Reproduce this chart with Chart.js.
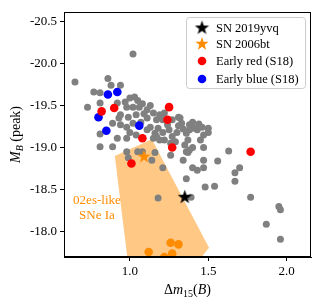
<!DOCTYPE html>
<html>
<head>
<meta charset="utf-8">
<script src="https://cdn.jsdelivr.net/npm/chart.js@4"></script>
<style>
  html, body { margin: 0; padding: 0; background: #fff; }
  #wrap { width: 324px; height: 305px; }
</style>
</head>
<body>
<div id="wrap"><canvas id="grafico" width="324" height="305"></canvas></div>
<script>
// valores
const grayDm15 = [1.02,0.65,0.86,0.88,0.94,0.77,0.81,0.81,0.73,0.92,0.97,1.00,1.03,1.05,0.98,1.02,1.06,1.11,1.15,1.19,
  0.94,0.99,1.04,1.11,1.17,1.21,0.89,0.94,0.98,1.02,1.13,1.18,1.17,0.81,0.92,1.22,1.27,1.31,1.33,1.38,
  1.41,1.46,1.50,1.25,1.30,1.36,1.47,1.22,1.29,1.35,1.40,1.20,1.32,1.40,1.43,1.38,1.27,1.21,1.11,1.04,
  1.00,1.15,1.19,1.37,1.38,1.37,1.34,1.26,1.21,1.05,1.08,1.16,1.43,1.40,1.50,1.45,1.47,1.63,1.47,1.56,
  1.47,1.70,1.67,1.67,1.36,1.48,1.54,1.77,1.39,1.95,1.96,1.87,1.96,0.99,0.98,1.14,1.18,0.81,0.89,0.98,
  0.93,1.36,1.08,1.13,1.09,1.24,1.34,1.44,1.07,1.16,1.26,1.31];
const grayMB = [-20.11,-19.78,-19.82,-19.74,-19.74,-19.66,-19.65,-19.53,-19.48,-19.53,-19.54,-19.59,-19.60,-19.56,-19.48,-19.48,-19.48,-19.45,-19.41,-19.39,
  -19.39,-19.36,-19.39,-19.35,-19.33,-19.33,-19.29,-19.27,-19.24,-19.29,-19.24,-19.23,-19.13,-19.16,-19.11,-19.41,-19.33,-19.36,-19.29,-19.27,
  -19.23,-19.24,-19.23,-19.21,-19.18,-19.17,-19.15,-19.09,-19.07,-19.03,-19.00,-19.36,-19.35,-19.30,-19.21,-19.21,-19.13,-19.18,-19.21,-19.15,
  -19.18,-19.11,-19.09,-19.09,-18.97,-18.94,-18.85,-18.91,-18.76,-18.95,-18.95,-18.94,-18.73,-18.76,-19.18,-19.09,-19.00,-18.96,-18.85,-18.84,
  -18.76,-18.76,-18.70,-18.60,-18.63,-18.53,-18.54,-18.41,-18.41,-18.30,-18.26,-18.09,-17.91,-18.88,-18.95,-18.85,-18.40,-19.01,-19.01,-19.11,
  -19.35,-18.95,-19.52,-19.50,-19.40,-19.27,-19.22,-19.28,-19.30,-19.17,-19.05,-19.26];

const redDm15 = [0.82, 0.90, 1.08, 1.25, 1.24, 1.27, 1.77, 1.01];
const redMB   = [-19.43, -19.47, -19.11, -19.48, -19.33, -19.00, -18.95, -18.81];

const blueDm15 = [0.86, 0.92, 0.80, 0.85, 1.06];
const blueMB   = [-19.63, -19.66, -19.36, -19.20, -19.26];

const es02Dm15 = [1.12, 1.26, 1.31, 1.27, 1.22];
const es02MB   = [-17.76, -17.87, -17.85, -17.74, -17.70];

const sn2019yvq = [1.35, -18.41];
const sn2006bt  = [1.09, -18.89];

// regiao 02es-like
const regiaoDm15 = [0.904, 1.14, 1.505, 1.35, 1.00];
const regiaoMB   = [-18.90, -19.10, -17.81, -17.45, -17.45];

const xTicks = [1.0, 1.5, 2.0];
const yTicks = [-20.5, -20.0, -19.5, -19.0, -18.5, -18.0];

const fonte = '"Liberation Serif", "DejaVu Serif", serif';

function pontos(xs, ys) {
  return xs.map((v, i) => ({x: v, y: ys[i]}));
}

function estrela(cor, r) {
  let c = document.createElement('canvas');
  let s = Math.ceil(r * 2 + 2);
  c.width = s; c.height = s;
  let ctx = c.getContext('2d');
  ctx.fillStyle = cor;
  ctx.beginPath();
  for (let i = 0; i < 10; i++) {
    let ang = -Math.PI / 2 + i * Math.PI / 5;
    let rad = i % 2 ? r * 0.4 : r;
    let px = s / 2 + rad * Math.cos(ang), py = s / 2 + rad * Math.sin(ang);
    if (i == 0) ctx.moveTo(px, py); else ctx.lineTo(px, py);
  }
  ctx.closePath();
  ctx.fill();
  return c;
}

const estrelaPreta = estrela('#000000', 7.5);
const estrelaLaranja = estrela('#ff8c00', 7);

// desenha a regiao e o texto
const pluginRegiao = {
  id: 'regiao',
  beforeDatasetsDraw(chart) {
    const {ctx, chartArea, scales} = chart;
    ctx.save();
    ctx.beginPath();
    ctx.rect(chartArea.left, chartArea.top, chartArea.width, chartArea.height);
    ctx.clip();
    ctx.beginPath();
    regiaoDm15.forEach((v, i) => {
      let px = scales.x.getPixelForValue(v), py = scales.y.getPixelForValue(regiaoMB[i]);
      if (i == 0) ctx.moveTo(px, py); else ctx.lineTo(px, py);
    });
    ctx.closePath();
    ctx.fillStyle = 'rgba(255,140,0,0.48)';
    ctx.fill();
    ctx.fillStyle = '#ff8c00';
    ctx.font = '13px ' + fonte;
    ctx.textAlign = 'center';
    ctx.textBaseline = 'middle';
    let tx = scales.x.getPixelForValue(0.79);
    ctx.fillText('02es-like', tx, scales.y.getPixelForValue(-18.37));
    ctx.fillText('SNe Ia', tx, scales.y.getPixelForValue(-18.19));
    ctx.restore();
  }
};

function textoPartes(ctx, partes, x, y) {
  let total = 0;
  partes.forEach(p => { ctx.font = p.f; total += ctx.measureText(p.t).width; });
  let cx = x - total / 2;
  partes.forEach(p => {
    ctx.font = p.f;
    ctx.fillText(p.t, cx, y + (p.dy || 0));
    cx += ctx.measureText(p.t).width;
  });
}

const pluginMoldura = {
  id: 'moldura',
  afterDatasetsDraw(chart) {
    const {ctx, chartArea} = chart;
    ctx.save();
    ctx.strokeStyle = '#000';
    ctx.lineWidth = 1;
    ctx.strokeRect(chartArea.left + 0.5, chartArea.top + 0.5, chartArea.width - 1, chartArea.height - 1);

    // legenda
    let lx = 186, ly = 17, lw = 119, lh = 71;
    ctx.beginPath();
    ctx.roundRect(lx + 0.5, ly + 0.5, lw, lh, 3);
    ctx.fillStyle = 'rgba(255,255,255,0.85)';
    ctx.fill();
    ctx.strokeStyle = '#cccccc';
    ctx.stroke();
    const itens = chart.data.datasets.filter(d => d.legenda);
    const linhas = [28, 44, 61, 79];
    ctx.font = '12.5px ' + fonte;
    ctx.fillStyle = '#000';
    ctx.textAlign = 'left';
    ctx.textBaseline = 'middle';
    itens.forEach((d, i) => {
      if (typeof d.pointStyle === 'string') {
        ctx.fillStyle = d.backgroundColor;
        ctx.beginPath();
        ctx.arc(202, linhas[i], d.pointRadius, 0, Math.PI * 2);
        ctx.fill();
      } else {
        Chart.helpers.drawPoint(ctx, {
          pointStyle: d.pointStyle, radius: d.pointRadius, borderWidth: 0, rotation: 0
        }, 202, linhas[i]);
      }
      ctx.fillStyle = '#000';
      ctx.fillText(d.label, 216, linhas[i] + 1);
    });

    // titulos dos eixos
    ctx.textAlign = 'left';
    ctx.textBaseline = 'alphabetic';
    ctx.fillStyle = '#000';
    textoPartes(ctx, [
      {t: '\u0394', f: '14px ' + fonte},
      {t: 'm', f: 'italic 14px ' + fonte},
      {t: '15', f: '10px ' + fonte, dy: 3},
      {t: '(', f: '14px ' + fonte},
      {t: 'B', f: 'italic 14px ' + fonte},
      {t: ')', f: '14px ' + fonte}
    ], (chartArea.left + chartArea.right) / 2, 294);
    ctx.translate(20, (chartArea.top + chartArea.bottom) / 2);
    ctx.rotate(-Math.PI / 2);
    textoPartes(ctx, [
      {t: 'M', f: 'italic 14px ' + fonte},
      {t: 'B', f: 'italic 10px ' + fonte, dy: 3},
      {t: ' (peak)', f: '14px ' + fonte}
    ], 0, 0);
    ctx.restore();
  }
};

let grafico = new Chart(document.getElementById('grafico'), {
  type: 'scatter',
  data: {
    datasets: [
      {label: 'SN 2019yvq', legenda: true, data: pontos([sn2019yvq[0]], [sn2019yvq[1]]),
        pointStyle: estrelaPreta, pointRadius: 7, backgroundColor: '#000'},
      {label: 'SN 2006bt', legenda: true, data: pontos([sn2006bt[0]], [sn2006bt[1]]),
        pointStyle: estrelaLaranja, pointRadius: 7, backgroundColor: '#ff8c00'},
      {label: 'Early red (S18)', legenda: true, data: pontos(redDm15, redMB),
        pointStyle: 'circle', pointRadius: 4.3, backgroundColor: '#ff0000', borderWidth: 0},
      {label: 'Early blue (S18)', legenda: true, data: pontos(blueDm15, blueMB),
        pointStyle: 'circle', pointRadius: 4.3, backgroundColor: '#0000ff', borderWidth: 0},
      {label: '02es', data: pontos(es02Dm15, es02MB), clip: 0,
        pointStyle: 'circle', pointRadius: 4.3, backgroundColor: '#ff8c00', borderWidth: 0},
      {label: 'CSP', data: pontos(grayDm15, grayMB),
        pointStyle: 'circle', pointRadius: 3.5, backgroundColor: '#808080', borderWidth: 0}
    ]
  },
  options: {
    responsive: false,
    animation: false,
    devicePixelRatio: 1,
    layout: {padding: {top: 12, right: 13, left: 0, bottom: 0}},
    plugins: {legend: {display: false}, tooltip: {enabled: false}},
    scales: {
      x: {
        type: 'linear', min: 0.58, max: 2.155,
        afterFit: s => { s.height = 48; },
        afterBuildTicks: s => { s.ticks = xTicks.map(v => ({value: v})); },
        grid: {drawOnChartArea: false, tickLength: 4, color: '#000'},
        border: {color: '#000'},
        ticks: {padding: 3, color: '#000', font: {family: fonte, size: 13}, callback: v => v.toFixed(1)}
      },
      y: {
        type: 'linear', reverse: true, min: -20.61, max: -17.70,
        afterFit: s => { s.width = 64; },
        afterBuildTicks: s => { s.ticks = yTicks.map(v => ({value: v})); },
        grid: {drawOnChartArea: false, tickLength: 4, color: '#000'},
        border: {color: '#000'},
        ticks: {padding: 3, color: '#000', font: {family: fonte, size: 13}, callback: v => v.toFixed(1)}
      }
    }
  },
  plugins: [pluginRegiao, pluginMoldura]
});
</script>
</body>
</html>
